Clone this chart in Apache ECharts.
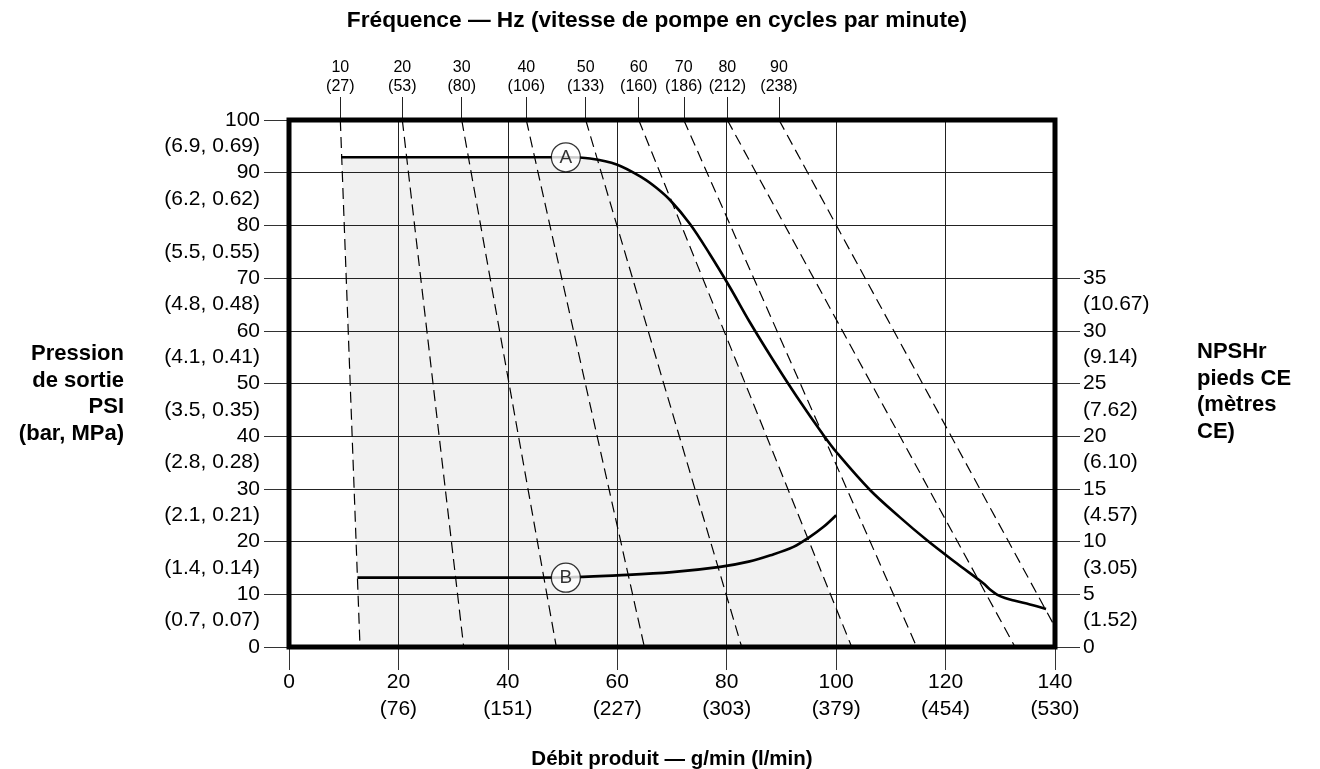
<!DOCTYPE html>
<html><head><meta charset="utf-8">
<script src="https://cdn.jsdelivr.net/npm/echarts@6/dist/echarts.min.js"></script>
<style>html,body{margin:0;padding:0;background:#fff}#c{width:1320px;height:769px}</style>
</head><body><div id="c"></div>
<script>
// ---- data ----
const flowTicks = [0, 20, 40, 60, 80, 100, 120, 140];
const flowTicksLpm = ['', '(76)', '(151)', '(227)', '(303)', '(379)', '(454)', '(530)'];
const psiTicks = [0, 10, 20, 30, 40, 50, 60, 70, 80, 90, 100];
const psiSub = ['', '(0.7, 0.07)', '(1.4, 0.14)', '(2.1, 0.21)', '(2.8, 0.28)', '(3.5, 0.35)', '(4.1, 0.41)', '(4.8, 0.48)', '(5.5, 0.55)', '(6.2, 0.62)', '(6.9, 0.69)'];
const npshTicks = [0, 5, 10, 15, 20, 25, 30, 35];
const npshSub = ['', '(1.52)', '(3.05)', '(4.57)', '(6.10)', '(7.62)', '(9.14)', '(10.67)'];
const freqHz = [10, 20, 30, 40, 50, 60, 70, 80, 90];
const freqCpm = ['(27)', '(53)', '(80)', '(106)', '(133)', '(160)', '(186)', '(212)', '(238)'];
// flow (g/min) where each frequency line meets 100 PSI and 0 PSI
const freqTopFlow = [9.38, 20.71, 31.57, 43.37, 54.23, 63.92, 72.15, 80.11, 89.56];
const freqBottomFlow = [12.98, 31.93, 48.86, 64.95, 82.74, 102.85, 114.73, 132.7, 142.0];
// curve A : outlet pressure (PSI)
const curveAFlow = [9.5, 30, 50.57, 55.01, 59.89, 64.76, 67.2, 69.64, 73.29, 76.95, 80.61, 84.26, 88.47, 92.85, 97.6, 100.1, 106.19, 111.67, 116.55, 122.03, 126.89, 128.12, 129.4, 130.86, 132.69, 135.43, 138.36];
const curveAPsi  = [92.92, 92.92, 92.92, 92.69, 91.56, 88.94, 87.1, 84.82, 80.27, 74.48, 68.22, 61.57, 54.46, 47.44, 40.32, 36.91, 29.79, 24.6, 20.3, 15.88, 12.09, 10.91, 9.96, 9.3, 8.77, 8.06, 7.21];
// curve B : NPSHr (ft of water)
const curveBFlow = [12.5, 40, 50.6, 60, 70, 78.8, 84, 88, 92.2, 95.2, 97.7, 100];
const curveBFt   = [6.58, 6.58, 6.6, 6.8, 7.1, 7.6, 8.1, 8.7, 9.5, 10.45, 11.4, 12.5];
// circled labels
const markerText = ['A', 'B'];
const markerFlow = [50.6, 50.6];
const markerPsi = [92.92, 13.15];
// shaded operating region (flow, PSI)
const shadeFlow = [9.63, 30, 50.57, 55.01, 59.89, 64.76, 67.2, 69.64, 69.8, 102.85, 12.98];
const shadePsi  = [92.92, 92.92, 92.92, 92.69, 91.56, 88.94, 87.1, 84.82, 84.6, 0, 0];

const FONT = '"Liberation Sans", Arial, Helvetica, sans-serif';
const chart = echarts.init(document.getElementById('c'), null, {renderer: 'canvas'});

function nearestIdx(arr, v) {
  let b = 0; for (let i = 1; i < arr.length; i++) if (Math.abs(arr[i] - v) < Math.abs(arr[b] - v)) b = i; return b;
}

const psiLabelVals = [];
psiTicks.forEach(v => { psiLabelVals.push(v); if (v > 0) psiLabelVals.push(v - 5); });
const npshLabelVals = [];
npshTicks.forEach(v => { npshLabelVals.push(v); if (v > 0) npshLabelVals.push(v - 2.5); });

const series = [];
series.push({
  type: 'custom', z: 0, silent: true, xAxisIndex: 0, yAxisIndex: 0, data: [0],
  renderItem: function (params, api) {
    const pts = shadeFlow.map((f, i) => api.coord([f, shadePsi[i]]));
    return {type: 'polygon', shape: {points: pts, smooth: 0}, style: {fill: '#f1f1f1', stroke: null}};
  }
});
freqHz.forEach((hz, i) => {
  series.push({
    type: 'line', z: 2, silent: true, symbol: 'none', xAxisIndex: 0, yAxisIndex: 0, clip: true,
    data: [[freqTopFlow[i], 100], [freqBottomFlow[i], 0]],
    lineStyle: {color: '#000', width: 1.2, type: [11, 6]}
  });
});
series.push({
  type: 'line', z: 3, silent: true, symbol: 'none', smooth: 0.35, xAxisIndex: 0, yAxisIndex: 0,
  data: curveAFlow.map((f, i) => [f, curveAPsi[i]]),
  lineStyle: {color: '#000', width: 2.6}
});
series.push({
  type: 'line', z: 3, silent: true, symbol: 'none', smooth: 0.35, xAxisIndex: 0, yAxisIndex: 1,
  data: curveBFlow.map((f, i) => [f, curveBFt[i]]),
  lineStyle: {color: '#000', width: 2.6}
});
series.push({
  type: 'scatter', z: 4, silent: true, xAxisIndex: 0, yAxisIndex: 0, symbol: 'circle', symbolSize: 29,
  data: markerFlow.map((f, i) => ({value: [f, markerPsi[i]], name: markerText[i]})),
  itemStyle: {color: '#fff', borderColor: '#000', borderWidth: 1.3},
  label: {show: true, position: 'inside', formatter: p => p.name, color: '#000', fontSize: 19, fontFamily: FONT}
});

const labelStyle = {color: '#000', fontSize: 21, fontFamily: FONT, lineHeight: 26.5};

const option = {
  animation: false,
  backgroundColor: '#fff',
  grid: {left: 289, top: 120, width: 766, height: 527, show: true, borderColor: '#000', borderWidth: 5, z: 10, backgroundColor: 'transparent'},
  xAxis: [
    {
      type: 'value', position: 'bottom', min: 0, max: 140, interval: 20, z: 1,
      axisLine: {show: false, onZero: false},
      axisTick: {show: true, length: 23, lineStyle: {color: '#333', width: 1}},
      splitLine: {show: true, lineStyle: {color: '#222', width: 1}},
      axisLabel: Object.assign({}, labelStyle, {margin: 22, formatter: v => { const i = flowTicks.indexOf(v); return i > 0 ? v + '\n' + flowTicksLpm[i] : String(v); }})
    },
    {
      type: 'value', position: 'top', min: 0, max: 140, z: 1,
      axisLine: {show: false, onZero: false},
      splitLine: {show: false},
      axisTick: {show: true, length: 23, customValues: freqTopFlow, lineStyle: {color: '#222', width: 1}},
      axisLabel: {show: true, customValues: freqTopFlow, margin: 24, color: '#000', fontSize: 16, lineHeight: 19, fontFamily: FONT,
        formatter: v => { const i = nearestIdx(freqTopFlow, v); return freqHz[i] + '\n' + freqCpm[i]; }}
    }
  ],
  yAxis: [
    {
      type: 'value', position: 'left', min: 0, max: 100, interval: 10, z: 1,
      axisLine: {show: false, onZero: false},
      axisTick: {show: true, length: 25, customValues: psiTicks, lineStyle: {color: '#333', width: 1}},
      splitLine: {show: true, lineStyle: {color: '#222', width: 1}},
      axisLabel: Object.assign({}, labelStyle, {margin: 29, customValues: psiLabelVals,
        formatter: v => { if (v % 10 === 0) return String(v); const i = psiTicks.indexOf(v + 5); return psiSub[i]; }})
    },
    {
      type: 'value', position: 'right', min: 0, max: 50, interval: 5, z: 1,
      axisLine: {show: false, onZero: false},
      axisTick: {show: true, length: 25, customValues: npshTicks, lineStyle: {color: '#333', width: 1}},
      splitLine: {show: false},
      axisLabel: Object.assign({}, labelStyle, {margin: 28, customValues: npshLabelVals,
        formatter: v => { if (v % 5 === 0) return String(v); const i = npshTicks.indexOf(v + 2.5); return npshSub[i]; }})
    }
  ],
  graphic: [
    {type: 'text', x: 657, y: 21, style: {text: 'Fréquence — Hz (vitesse de pompe en cycles par minute)', fontSize: 22.7, fontWeight: 'bold', fontFamily: FONT, fill: '#000', align: 'center', verticalAlign: 'middle'}},
    {type: 'text', x: 672, y: 759, style: {text: 'Débit produit — g/min (l/min)', fontSize: 20.5, fontWeight: 'bold', fontFamily: FONT, fill: '#000', align: 'center', verticalAlign: 'middle'}},
    {type: 'text', x: 124, y: 341, style: {text: 'Pression\nde sortie\nPSI\n(bar, MPa)', fontSize: 22, fontWeight: 'bold', fontFamily: FONT, fill: '#000', align: 'right', verticalAlign: 'top', lineHeight: 26.5}},
    {type: 'text', x: 1197, y: 339, style: {text: 'NPSHr\npieds CE\n(mètres\nCE)', fontSize: 22, fontWeight: 'bold', fontFamily: FONT, fill: '#000', align: 'left', verticalAlign: 'top', lineHeight: 26.5}}
  ],
  series: series
};
chart.setOption(option);
</script>
</body></html>
